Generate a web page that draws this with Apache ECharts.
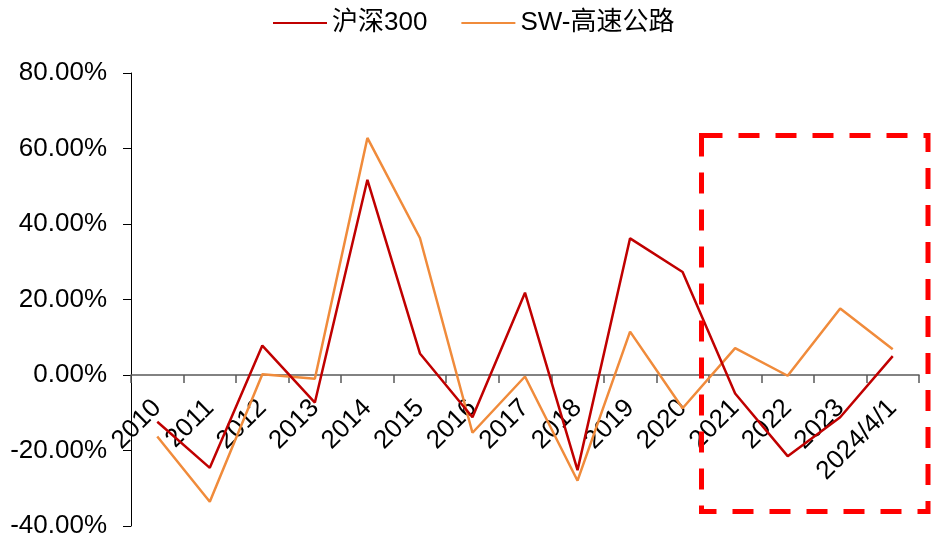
<!DOCTYPE html>
<html>
<head>
<meta charset="utf-8">
<script src="https://cdn.jsdelivr.net/npm/echarts@6/dist/echarts.min.js"></script>
<style>
  html, body { margin: 0; padding: 0; background: #ffffff; }
  #chart { width: 931px; height: 540px; }
</style>
</head>
<body>
<div id="chart"></div>
<script>
// Annual returns (%), CSI 300 vs SW expressway sector
const categories = ['2010', '2011', '2012', '2013', '2014', '2015', '2016', '2017',
  '2018', '2019', '2020', '2021', '2022', '2023', '2024/4/1'];
const hs300 = [-12.4, -24.6, 7.8, -7.3, 51.7, 5.7, -11.2, 21.8,
  -25.2, 36.2, 27.3, -4.9, -21.5, -11.2, 5.0];
const swHighway = [-16.3, -33.6, 0.2, -1.0, 62.8, 36.3, -15.3, -0.4,
  -28.0, 11.5, -8.8, 7.1, -0.2, 17.6, 6.8];
const seriesNames = ['沪深300', 'SW-高速公路'];
const yTicks = { min: -40, max: 80, interval: 20 };

const FONT = '"Liberation Sans", Arial, "Noto Sans CJK SC", sans-serif';

const W = 931, H = 540;
const grid = { left: 131, right: 12, top: 73, bottom: 14 };
// lift the category axis up to the zero line of the value axis
const plotH = H - grid.top - grid.bottom;
const zeroOffset = -plotH * (0 - yTicks.min) / (yTicks.max - yTicks.min);

const chart = echarts.init(document.getElementById('chart'), null, { renderer: 'canvas' });

chart.setOption({
  animation: false,
  backgroundColor: '#ffffff',
  legend: {
    top: 5,
    left: 267,
    itemWidth: 54,
    itemHeight: 14,
    itemGap: 33,
    itemStyle: { opacity: 0, borderWidth: 0 },
    textStyle: { fontFamily: FONT, fontSize: 26, color: '#000000' },
    data: seriesNames
  },
  grid: Object.assign({ containLabel: false, outerBoundsMode: 'none' }, grid),
  xAxis: {
    type: 'category',
    data: categories,
    boundaryGap: true,
    offset: zeroOffset,
    axisLine: { onZero: false, lineStyle: { color: '#595959', width: 1.5 } },
    axisTick: { show: true, inside: false, length: 8, alignWithLabel: false,
      lineStyle: { color: '#595959', width: 1.5 } },
    axisLabel: {
      rotate: 45, interval: 0, margin: 29,
      fontFamily: FONT, fontSize: 26, color: '#000000'
    },
    splitLine: { show: false }
  },
  yAxis: {
    type: 'value',
    min: yTicks.min,
    max: yTicks.max,
    interval: yTicks.interval,
    axisLine: { show: true, lineStyle: { color: '#000000', width: 1 } },
    axisTick: { show: true, inside: false, length: 8, lineStyle: { color: '#000000' } },
    axisLabel: {
      margin: 24, fontFamily: FONT, fontSize: 26, color: '#000000',
      formatter: v => v.toFixed(2) + '%'
    },
    splitLine: { show: false }
  },
  series: [
    {
      name: seriesNames[0],
      type: 'line',
      data: hs300,
      symbol: 'none',
      lineStyle: { color: '#C00000', width: 2.5 },
      itemStyle: { color: '#C00000' },
      z: 3
    },
    {
      name: seriesNames[1],
      type: 'line',
      data: swHighway,
      symbol: 'none',
      lineStyle: { color: '#F08B3B', width: 2.5 },
      itemStyle: { color: '#F08B3B' },
      z: 2
    }
  ],
  graphic: [
    {
      // dashed highlight box around the recent years
      type: 'rect',
      shape: { x: 701.5, y: 135.5, width: 226.5, height: 376 },
      style: { fill: 'none', stroke: '#FF0000', lineWidth: 5, lineDash: [21, 16] },
      z: 10
    }
  ]
});
</script>
</body>
</html>
